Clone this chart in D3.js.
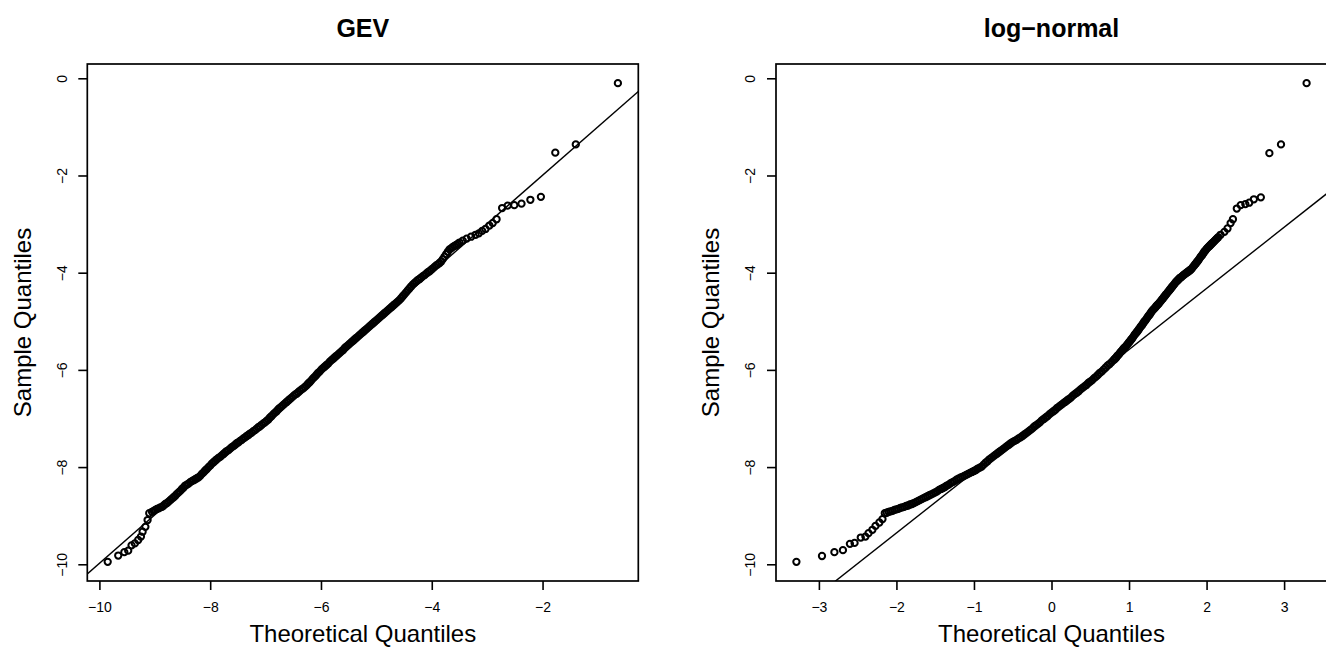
<!DOCTYPE html>
<html>
<head>
<meta charset="utf-8">
<script src="https://cdn.jsdelivr.net/npm/d3@7"></script>
<style>
  body { margin: 0; background: #fff; }
  svg { display: block; font-family: "Liberation Sans", Arial, Helvetica, sans-serif; }
</style>
</head>
<body>
<div id="chart"></div>
<script>
// ---- data ----
const panelTitles = ["GEV", "log\u2212normal"];
const xLabel = "Theoretical Quantiles";
const yLabel = "Sample Quantiles";

const gevXTicks = [-10, -8, -6, -4, -2];
const lnXTicks = [-3, -2, -1, 0, 1, 2, 3];
const yTicks = [0, -2, -4, -6, -8, -10];

// qqline: [intercept, slope]
const gevLine = [0.00, 0.998];
const lnLine = [-6.84, 1.258];

// GEV panel: theoretical (x) vs sample (y)
const gevX = [
  -9.85,-9.66,-9.55,-9.48,-9.42,-9.36,-9.30,-9.25,-9.22,-9.17,-9.13,-9.10,
  -9.05,-9.02,-8.99,-8.96,-8.93,-8.90,-8.87,-8.84,-8.81,-8.78,
  -8.75,-8.72,-8.69,-8.66,-8.63,-8.60,-8.57,-8.54,-8.51,-8.48,
  -8.45,-8.42,-8.39,-8.36,-8.33,-8.30,-8.27,-8.24,-8.21,-8.18,
  -8.15,-8.12,-8.09,-8.06,-8.03,-8.00,-7.97,-7.94,-7.91,-7.88,
  -7.85,-7.82,-7.79,-7.76,-7.73,-7.70,-7.67,-7.64,-7.61,-7.58,
  -7.55,-7.52,-7.49,-7.46,-7.43,-7.40,-7.37,-7.34,-7.31,-7.28,
  -7.25,-7.22,-7.19,-7.16,-7.13,-7.10,-7.07,-7.04,-7.01,-6.98,
  -6.95,-6.92,-6.89,-6.86,-6.83,-6.80,-6.77,-6.74,-6.71,-6.68,
  -6.65,-6.62,-6.59,-6.56,-6.53,-6.50,-6.47,-6.44,-6.41,-6.38,
  -6.35,-6.32,-6.29,-6.26,-6.23,-6.20,-6.17,-6.14,-6.11,-6.08,
  -6.05,-6.02,-5.99,-5.96,-5.93,-5.90,-5.87,-5.84,-5.81,-5.78,
  -5.75,-5.72,-5.69,-5.66,-5.63,-5.60,-5.57,-5.54,-5.51,-5.48,
  -5.45,-5.42,-5.39,-5.36,-5.33,-5.30,-5.27,-5.24,-5.21,-5.18,
  -5.15,-5.12,-5.09,-5.06,-5.03,-5.00,-4.97,-4.94,-4.91,-4.88,
  -4.85,-4.82,-4.79,-4.76,-4.73,-4.70,-4.67,-4.64,-4.61,-4.58,
  -4.55,-4.52,-4.49,-4.46,-4.43,-4.40,-4.37,-4.34,-4.31,-4.28,
  -4.25,-4.22,-4.19,-4.16,-4.13,-4.10,-4.07,-4.04,-4.01,-3.98,
  -3.95,-3.92,-3.89,-3.86,-3.83,-3.80,-3.77,-3.74,-3.71,-3.68,
  -3.65,-3.62,-3.59,-3.56,-3.53,-3.50,
  -3.44,-3.37,-3.29,-3.21,-3.15,-3.09,-3.03,-2.96,-2.90,-2.83,
  -2.73,-2.63,-2.51,-2.38,-2.22,-2.03,-1.77,-1.40,-0.64
];
const gevY = [
  -9.95,-9.82,-9.75,-9.72,-9.61,-9.57,-9.50,-9.43,-9.33,-9.23,-9.09,-8.95,
  -8.92,-8.90,-8.88,-8.86,-8.85,-8.83,-8.82,-8.79,-8.76,-8.74,
  -8.71,-8.68,-8.65,-8.62,-8.59,-8.55,-8.52,-8.49,-8.45,-8.42,
  -8.38,-8.36,-8.34,-8.31,-8.29,-8.27,-8.25,-8.23,-8.21,-8.18,
  -8.14,-8.11,-8.07,-8.04,-8.00,-7.97,-7.93,-7.90,-7.87,-7.84,
  -7.81,-7.79,-7.76,-7.73,-7.70,-7.67,-7.65,-7.62,-7.59,-7.57,
  -7.54,-7.51,-7.49,-7.46,-7.44,-7.41,-7.39,-7.36,-7.34,-7.31,
  -7.29,-7.26,-7.24,-7.21,-7.18,-7.16,-7.13,-7.10,-7.08,-7.05,
  -7.02,-6.98,-6.95,-6.91,-6.88,-6.85,-6.81,-6.78,-6.75,-6.72,
  -6.69,-6.66,-6.63,-6.60,-6.57,-6.54,-6.51,-6.49,-6.46,-6.43,
  -6.40,-6.38,-6.35,-6.32,-6.28,-6.25,-6.21,-6.17,-6.14,-6.10,
  -6.06,-6.03,-5.99,-5.96,-5.93,-5.90,-5.87,-5.83,-5.80,-5.77,
  -5.74,-5.71,-5.68,-5.65,-5.62,-5.59,-5.55,-5.52,-5.49,-5.46,
  -5.43,-5.40,-5.37,-5.34,-5.31,-5.28,-5.25,-5.22,-5.19,-5.16,
  -5.13,-5.10,-5.07,-5.04,-5.01,-4.98,-4.95,-4.92,-4.89,-4.86,
  -4.83,-4.80,-4.77,-4.74,-4.71,-4.68,-4.65,-4.62,-4.59,-4.56,
  -4.52,-4.48,-4.44,-4.40,-4.36,-4.32,-4.28,-4.24,-4.21,-4.18,
  -4.15,-4.13,-4.10,-4.07,-4.05,-4.02,-3.99,-3.97,-3.94,-3.91,
  -3.88,-3.85,-3.83,-3.80,-3.77,-3.72,-3.67,-3.62,-3.57,-3.52,
  -3.50,-3.47,-3.45,-3.43,-3.41,-3.38,
  -3.34,-3.30,-3.26,-3.22,-3.19,-3.14,-3.10,-3.03,-2.98,-2.90,
  -2.67,-2.62,-2.61,-2.58,-2.50,-2.44,-1.53,-1.36,-0.10
];

// log-normal panel: theoretical (x) vs sample (y)
const lnX = [
  -3.29,-2.96,-2.80,-2.69,-2.60,-2.54,-2.46,-2.40,-2.36,-2.31,-2.27,-2.22,-2.18,-2.15,
  -2.125,-2.100,-2.075,-2.050,-2.025,-2.000,-1.975,-1.950,-1.925,-1.900,
  -1.875,-1.850,-1.825,-1.800,-1.775,-1.750,-1.725,-1.700,-1.675,-1.650,
  -1.625,-1.600,-1.575,-1.550,-1.525,-1.500,-1.475,-1.450,-1.425,-1.400,
  -1.375,-1.350,-1.325,-1.300,-1.275,-1.250,-1.225,-1.200,-1.175,-1.150,
  -1.125,-1.100,-1.075,-1.050,-1.025,-1.000,-0.975,-0.950,-0.925,-0.900,
  -0.875,-0.850,-0.825,-0.800,-0.775,-0.750,-0.725,-0.700,-0.675,-0.650,
  -0.625,-0.600,-0.575,-0.550,-0.525,-0.500,-0.475,-0.450,-0.425,-0.400,
  -0.375,-0.350,-0.325,-0.300,-0.275,-0.250,-0.225,-0.200,-0.175,-0.150,
  -0.125,-0.100,-0.075,-0.050,-0.025,0.000,0.025,0.050,0.075,0.100,
  0.125,0.150,0.175,0.200,0.225,0.250,0.275,0.300,0.325,0.350,
  0.375,0.400,0.425,0.450,0.475,0.500,0.525,0.550,0.575,0.600,
  0.625,0.650,0.675,0.700,0.725,0.750,0.775,0.800,0.825,0.850,
  0.875,0.900,0.925,0.950,0.975,1.000,1.025,1.050,1.075,1.100,
  1.125,1.150,1.175,1.200,1.225,1.250,1.275,1.300,1.325,1.350,
  1.375,1.400,1.425,1.450,1.475,1.500,1.525,1.550,1.575,1.600,
  1.625,1.650,1.675,1.700,1.725,1.750,1.775,1.800,1.825,1.850,
  1.875,1.900,1.925,1.950,1.975,2.000,2.025,2.050,2.075,2.100,
  2.125,2.150,
  2.18,2.23,2.27,2.31,2.34,2.39,2.44,2.50,2.55,2.61,2.70,2.81,2.96,3.29,
  // steeper stretch, read more finely
  0.8125,0.8375,0.8625,0.8875,0.9125,0.9375,0.9625,0.9875,
  1.0125,1.0375,1.0625,1.0875,1.1125,1.1375,1.1625,1.1875,1.2125,1.2375,
  1.2625,1.2875,1.3125,1.3375,1.3625,1.3875,1.4125,1.4375,1.4625,1.4875,
  1.5125,1.5375,1.5625,1.5875,1.6125,1.6375,1.6625,1.6875,1.7125,1.7375,
  1.7625,1.7875,1.8125,1.8375,1.8625,1.8875,1.9125,1.9375,1.9625,1.9875,
  2.0125,2.0375,2.0625,2.0875,2.1125,2.1375
];
const lnY = [
  -9.95,-9.83,-9.75,-9.71,-9.58,-9.56,-9.45,-9.43,-9.36,-9.29,-9.21,-9.14,-9.07,-8.95,
  -8.94,-8.92,-8.91,-8.90,-8.88,-8.87,-8.86,-8.84,-8.83,-8.82,
  -8.80,-8.79,-8.77,-8.76,-8.74,-8.72,-8.70,-8.68,-8.66,-8.64,
  -8.62,-8.60,-8.58,-8.56,-8.54,-8.52,-8.50,-8.47,-8.45,-8.43,
  -8.41,-8.38,-8.36,-8.33,-8.31,-8.29,-8.26,-8.24,-8.22,-8.20,
  -8.18,-8.16,-8.14,-8.12,-8.10,-8.08,-8.06,-8.03,-8.01,-7.99,
  -7.95,-7.91,-7.88,-7.84,-7.81,-7.78,-7.75,-7.72,-7.69,-7.66,
  -7.63,-7.60,-7.57,-7.54,-7.51,-7.48,-7.46,-7.44,-7.41,-7.39,
  -7.36,-7.33,-7.30,-7.27,-7.24,-7.21,-7.17,-7.14,-7.11,-7.08,
  -7.04,-7.01,-6.98,-6.95,-6.91,-6.88,-6.85,-6.82,-6.78,-6.75,
  -6.72,-6.69,-6.66,-6.63,-6.60,-6.57,-6.53,-6.50,-6.47,-6.44,
  -6.40,-6.37,-6.34,-6.31,-6.27,-6.24,-6.21,-6.17,-6.14,-6.10,
  -6.06,-6.03,-5.99,-5.95,-5.91,-5.88,-5.84,-5.80,-5.76,-5.71,
  -5.67,-5.62,-5.57,-5.53,-5.48,-5.43,-5.38,-5.33,-5.27,-5.22,
  -5.17,-5.11,-5.06,-5.00,-4.95,-4.89,-4.84,-4.78,-4.74,-4.69,
  -4.65,-4.60,-4.55,-4.50,-4.45,-4.40,-4.35,-4.30,-4.25,-4.20,
  -4.16,-4.12,-4.09,-4.05,-4.02,-3.99,-3.96,-3.93,-3.88,-3.83,
  -3.78,-3.73,-3.67,-3.62,-3.56,-3.51,-3.47,-3.43,-3.39,-3.35,
  -3.31,-3.27,
  -3.22,-3.16,-3.09,-2.98,-2.90,-2.68,-2.61,-2.59,-2.56,-2.49,-2.45,-1.54,-1.36,-0.10,
  -5.78,-5.74,-5.69,-5.64,-5.60,-5.55,-5.51,-5.46,
  -5.41,-5.36,-5.30,-5.25,-5.20,-5.14,-5.09,-5.03,-4.98,-4.92,
  -4.87,-4.81,-4.76,-4.72,-4.67,-4.63,-4.58,-4.53,-4.48,-4.43,
  -4.38,-4.33,-4.28,-4.23,-4.18,-4.14,-4.10,-4.07,-4.04,-4.01,
  -3.98,-3.95,-3.91,-3.86,-3.81,-3.76,-3.70,-3.65,-3.59,-3.54,
  -3.49,-3.45,-3.41,-3.37,-3.33,-3.29
];

// ---- layout ----
const width = 1326, height = 653;
const plotTop = 64, plotBottom = 581, plotW = 551;
const ink = "#000";

const svg = d3.select("#chart")
  .append("svg")
    .attr("width", width)
    .attr("height", height);

// R-style axis limits: data range extended by 4% each side
function rlim(v) {
  const [a, b] = d3.extent(v);
  const pad = (b - a) * 0.04;
  return [a - pad, b + pad];
}

function drawPanel(p) {
  const x = d3.scaleLinear().domain(rlim(p.xs)).range([p.left, p.left + plotW]);
  const y = d3.scaleLinear().domain(rlim(p.ys)).range([plotBottom, plotTop]);
  const g = svg.append("g");
  const cx = p.left + plotW / 2;

  g.append("clipPath").attr("id", "clip-" + p.id)
    .append("rect")
      .attr("x", p.left).attr("y", plotTop)
      .attr("width", plotW).attr("height", plotBottom - plotTop);

  // reference line
  const [d0, d1] = x.domain();
  g.append("line")
    .attr("clip-path", `url(#clip-${p.id})`)
    .attr("x1", x(d0)).attr("y1", y(p.line[0] + p.line[1] * d0))
    .attr("x2", x(d1)).attr("y2", y(p.line[0] + p.line[1] * d1))
    .attr("stroke", ink)
    .attr("stroke-width", 1.4);

  // points
  g.append("g")
    .selectAll("circle")
    .data(d3.zip(p.xs, p.ys))
    .join("circle")
      .attr("cx", d => x(d[0]))
      .attr("cy", d => y(d[1]))
      .attr("r", 3.15)
      .attr("fill", "none")
      .attr("stroke", ink)
      .attr("stroke-width", 2.0);

  // x axis
  const xa = g.append("g")
    .attr("transform", `translate(0,${plotBottom})`)
    .call(d3.axisBottom(x).tickValues(p.xTicks).tickSize(9));
  xa.attr("font-size", 14).attr("font-family", null);
  xa.select(".domain").remove();
  xa.selectAll(".tick line").attr("stroke", ink).attr("stroke-width", 1.6);
  xa.selectAll(".tick text").attr("y", 31).attr("dy", null).attr("fill", ink);

  // y axis (labels parallel to the axis)
  const ya = g.append("g")
    .attr("transform", `translate(${p.left},0)`)
    .call(d3.axisLeft(y).tickValues(yTicks).tickSize(9));
  ya.attr("font-size", 14).attr("font-family", null);
  ya.select(".domain").remove();
  ya.selectAll(".tick line").attr("stroke", ink).attr("stroke-width", 1.6);
  ya.selectAll(".tick text")
    .attr("x", null).attr("dy", null)
    .attr("text-anchor", "middle")
    .attr("fill", ink)
    .attr("transform", "translate(-20.6,0) rotate(-90)");

  // box
  g.append("rect")
    .attr("x", p.left).attr("y", plotTop)
    .attr("width", plotW).attr("height", plotBottom - plotTop)
    .attr("fill", "none")
    .attr("stroke", ink)
    .attr("stroke-width", 1.7);

  // titles
  g.append("text")
    .attr("x", cx).attr("y", 37)
    .attr("text-anchor", "middle")
    .attr("font-size", 25).attr("font-weight", "bold")
    .attr("fill", ink)
    .text(p.title);

  g.append("text")
    .attr("x", cx).attr("y", 642)
    .attr("text-anchor", "middle")
    .attr("font-size", 24)
    .attr("fill", ink)
    .text(xLabel);

  g.append("text")
    .attr("transform", `translate(${p.left - 56.8},${(plotTop + plotBottom) / 2}) rotate(-90)`)
    .attr("text-anchor", "middle")
    .attr("font-size", 24)
    .attr("fill", ink)
    .text(yLabel);
}

drawPanel({ id: "gev", title: panelTitles[0], xs: gevX, ys: gevY, line: gevLine, xTicks: gevXTicks, left: 87.3 });
drawPanel({ id: "ln", title: panelTitles[1], xs: lnX, ys: lnY, line: lnLine, xTicks: lnXTicks, left: 776 });
</script>
</body>
</html>
